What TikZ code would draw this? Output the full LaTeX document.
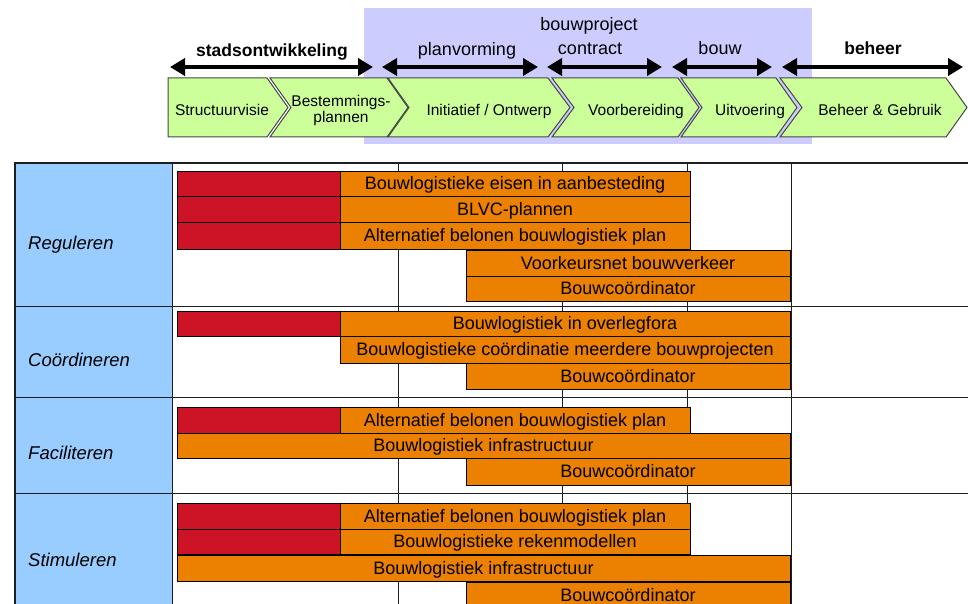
\documentclass[tikz,border=0pt]{standalone}
\usepackage{fontspec}
\setmainfont{Liberation Sans}
\usetikzlibrary{arrows.meta}

\definecolor{phaseband}{RGB}{204,204,255}
\definecolor{chevfill}{RGB}{204,255,153}
\definecolor{chevline}{RGB}{70,70,70}
\definecolor{rowblue}{RGB}{153,204,255}
\definecolor{barred}{RGB}{204,20,38}
\definecolor{barorange}{RGB}{236,128,0}
\definecolor{gridline}{RGB}{30,30,30}

% one bar of the planning chart: name, x1, y1, x2, y2, colour, label
\newcommand\ganttbar[7]{%
  \node[ganttbox, fill=#6, anchor=north west,
        minimum width={(#4-#2)*1pt}, minimum height={(#5-#3)*1pt}] (#1) at (#2,#3) {#7};}

\begin{document}
\begin{tikzpicture}[x=1pt,y=-1pt,
  ganttbox/.style={draw=black, line width=0.8pt, inner sep=0pt, outer sep=0pt,
    font=\fontsize{18}{20}\selectfont, text height=12.5pt, text depth=0pt},
  chevron/.style={fill=chevfill, draw=chevline, line width=1pt, line join=miter},
  chevtext/.style={font=\fontsize{15.5}{16}\selectfont, inner sep=0pt, align=center},
  phasetext/.style={font=\fontsize{18}{24}\selectfont, inner sep=0pt, anchor=base},
  phasebold/.style={font=\fontsize{17.5}{20}\selectfont\bfseries, inner sep=0pt, anchor=base},
  phasearrow/.style={line width=4.5pt, {Triangle[length=15pt,width=17pt]}-{Triangle[length=15pt,width=17pt]}},
  rowlabel/.style={font=\fontsize{18.5}{20}\selectfont\itshape, inner sep=0pt, anchor=base west},
  frame/.style={draw=gridline, line width=2pt},
  grid/.style={draw=gridline, line width=1pt}]

\useasboundingbox (0,0) rectangle (968,604);

% ---------- phase band of the building project ----------
\fill[phaseband] (364,8) rectangle (812,144);

% ---------- phase labels ----------
\node[phasebold] (tStad) at (272,57) {stadsontwikkeling};
\node[phasetext] (tPlan) at (467,56) {planvorming};
\node[phasetext] (tProj) at (589,31) {bouwproject};
\node[phasetext] (tContr) at (590,55) {contract};
\node[phasetext] (tBouw) at (720,55) {bouw};
\node[phasebold] (tBeh) at (873,55) {beheer};

% ---------- phase arrows ----------
\coordinate (aStadL) at (170,67);  \coordinate (aStadR) at (373,67);
\coordinate (aPlanL) at (382,67);  \coordinate (aPlanR) at (538,67);
\coordinate (aContrL) at (547,67); \coordinate (aContrR) at (662,67);
\coordinate (aBouwL) at (672,67);  \coordinate (aBouwR) at (772,67);
\coordinate (aBehL) at (782,67);   \coordinate (aBehR) at (963,67);
\draw[phasearrow] (aStadL) -- (aStadR);
\draw[phasearrow] (aPlanL) -- (aPlanR);
\draw[phasearrow] (aContrL) -- (aContrR);
\draw[phasearrow] (aBouwL) -- (aBouwR);
\draw[phasearrow] (aBehL) -- (aBehR);

% ---------- process chevrons ----------
\draw[chevron] (168,78) -- (267,78) -- (288,107.5) -- (267,137) -- (168,137) -- cycle;
\draw[chevron] (270,78) -- (387,78) -- (408,107.5) -- (387,137) -- (270,137) -- (291,107.5) -- cycle;
\draw[chevron] (388,78) -- (548,78) -- (570,107.5) -- (548,137) -- (388,137) -- (409,107.5) -- cycle;
\draw[chevron] (552,78) -- (678,78) -- (699,107.5) -- (678,137) -- (552,137) -- (574,107.5) -- cycle;
\draw[chevron] (681,78) -- (776,78) -- (797,107.5) -- (776,137) -- (681,137) -- (702,107.5) -- cycle;
\draw[chevron] (780,78) -- (946,78) -- (967,107.5) -- (946,137) -- (780,137) -- (802,107.5) -- cycle;

\node[chevtext, anchor=base] (cStruct) at (222,115.5) {Structuurvisie};
\node[chevtext] (cBest) at (341,110.5) {Bestemmings-\\plannen};
\node[chevtext, anchor=base] (cInit) at (489,115.5) {Initiatief / Ontwerp};
\node[chevtext, anchor=base] (cVoor) at (636,115.5) {Voorbereiding};
\node[chevtext, anchor=base] (cUitv) at (750,115.5) {Uitvoering};
\node[chevtext, anchor=base] (cBeh) at (880,115.5) {Beheer \& Gebruik};

% ---------- table ----------
\fill[rowblue] (15,163) rectangle (172,610);
\foreach \gx in {172,398,562,687,791}
  \draw[grid] (\gx,163) -- (\gx,610);
\foreach \gy in {306,397,493}
  \draw[grid] (15,\gy) -- (968,\gy);
\draw[frame] (15,610) -- (15,163) -- (968,163);

\node[rowlabel] (lReg) at (28,249) {Reguleren};
\node[rowlabel] (lCoo) at (28,366) {Coördineren};
\node[rowlabel] (lFac) at (28,459) {Faciliteren};
\node[rowlabel] (lSti) at (28,566) {Stimuleren};

% Reguleren
\ganttbar{r1a}{177}{171}{340}{196}{barred}{}
\ganttbar{o1a}{340}{171}{690}{196}{barorange}{Bouwlogistieke eisen in aanbesteding}
\ganttbar{r1b}{177}{196}{340}{222}{barred}{}
\ganttbar{o1b}{340}{196}{690}{222}{barorange}{BLVC-plannen}
\ganttbar{r1c}{177}{222}{340}{249}{barred}{}
\ganttbar{o1c}{340}{222}{690}{249}{barorange}{Alternatief belonen bouwlogistiek plan}
\ganttbar{o1d}{466}{250}{790}{276}{barorange}{Voorkeursnet bouwverkeer}
\ganttbar{o1e}{466}{276}{790}{301}{barorange}{Bouwcoördinator}

% Coördineren
\ganttbar{r2a}{177}{311}{340}{336}{barred}{}
\ganttbar{o2a}{340}{311}{790}{336}{barorange}{Bouwlogistiek in overlegfora}
\ganttbar{o2b}{340}{336}{790}{363}{barorange}{Bouwlogistieke coördinatie meerdere bouwprojecten}
\ganttbar{o2c}{466}{363}{790}{389}{barorange}{Bouwcoördinator}

% Faciliteren
\ganttbar{r3a}{177}{407}{340}{433}{barred}{}
\ganttbar{o3a}{340}{407}{690}{433}{barorange}{Alternatief belonen bouwlogistiek plan}
\ganttbar{o3b}{177}{433}{790}{458}{barorange}{Bouwlogistiek infrastructuur}
\ganttbar{o3c}{466}{458}{790}{485}{barorange}{Bouwcoördinator}

% Stimuleren
\ganttbar{r4a}{177}{503}{340}{529}{barred}{}
\ganttbar{o4a}{340}{503}{690}{529}{barorange}{Alternatief belonen bouwlogistiek plan}
\ganttbar{r4b}{177}{529}{340}{554}{barred}{}
\ganttbar{o4b}{340}{529}{690}{554}{barorange}{Bouwlogistieke rekenmodellen}
\ganttbar{o4c}{177}{555}{790}{581}{barorange}{Bouwlogistiek infrastructuur}
\ganttbar{o4d}{466}{582}{790}{608}{barorange}{Bouwcoördinator}

\end{tikzpicture}
\end{document}
